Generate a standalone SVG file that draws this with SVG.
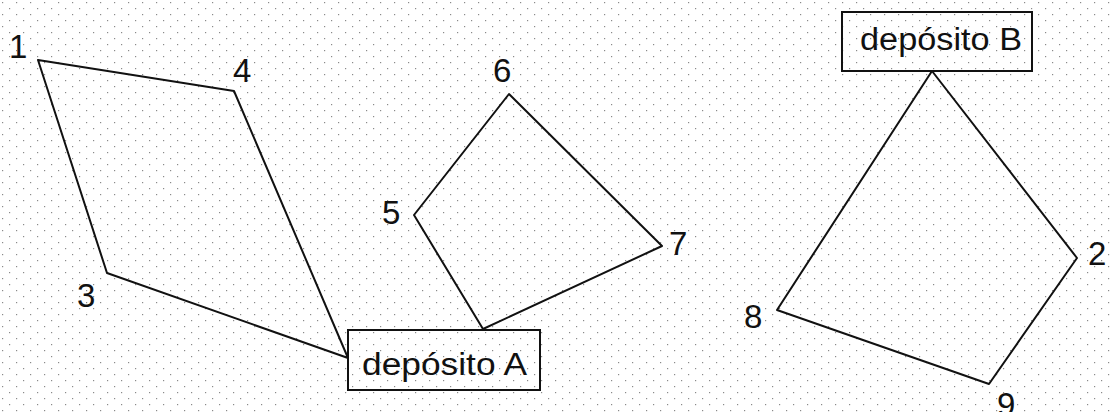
<svg xmlns="http://www.w3.org/2000/svg" width="1111" height="412" viewBox="0 0 1111 412">
<style>
.edge{fill:none;stroke:#111;stroke-width:2;stroke-linejoin:round}
.lbl{font-family:"Liberation Sans",Arial,sans-serif;font-size:33px;fill:#111}
.box{fill:#fff;fill-opacity:0;stroke:#111;stroke-width:2}
.btxt{font-family:"Liberation Sans",Arial,sans-serif;font-size:31px;fill:#111}
</style>
<defs>
<pattern id="dots" width="14" height="12" patternUnits="userSpaceOnUse">
<rect x="2" y="2" width="1.2" height="1.2" fill="#8a8a8a"/>
<rect x="9" y="8" width="1.2" height="1.2" fill="#8a8a8a"/>
</pattern>
</defs>
<rect width="1111" height="412" fill="#fff"/>
<rect width="1111" height="412" fill="url(#dots)"/>
<g id="connectors">
<polygon class="edge" points="38,60 234,91 348,358 107,273"/>
<polygon class="edge" points="509,94 662,246 483,329 414,215"/>
<polygon class="edge" points="932,71 1077,258 989,384 777,310"/>
</g>
<g id="deposito-A">
<rect class="box" x="348" y="330" width="192" height="60"/>
<text class="btxt" x="362" y="375" textLength="165" lengthAdjust="spacingAndGlyphs">depósito A</text>
</g>
<g id="deposito-B">
<rect class="box" x="842" y="12" width="190" height="59"/>
<text class="btxt" x="860" y="50" textLength="162" lengthAdjust="spacingAndGlyphs">depósito B</text>
</g>
<g id="p1"><text class="lbl" x="9" y="58">1</text></g>
<g id="p4"><text class="lbl" x="233" y="82">4</text></g>
<g id="p3"><text class="lbl" x="77" y="307">3</text></g>
<g id="p6"><text class="lbl" x="493" y="82">6</text></g>
<g id="p5"><text class="lbl" x="382" y="224">5</text></g>
<g id="p7"><text class="lbl" x="669" y="255">7</text></g>
<g id="p2"><text class="lbl" x="1088" y="265">2</text></g>
<g id="p8"><text class="lbl" x="744" y="328">8</text></g>
<g id="p9"><text class="lbl" x="997" y="416">9</text></g>
</svg>
